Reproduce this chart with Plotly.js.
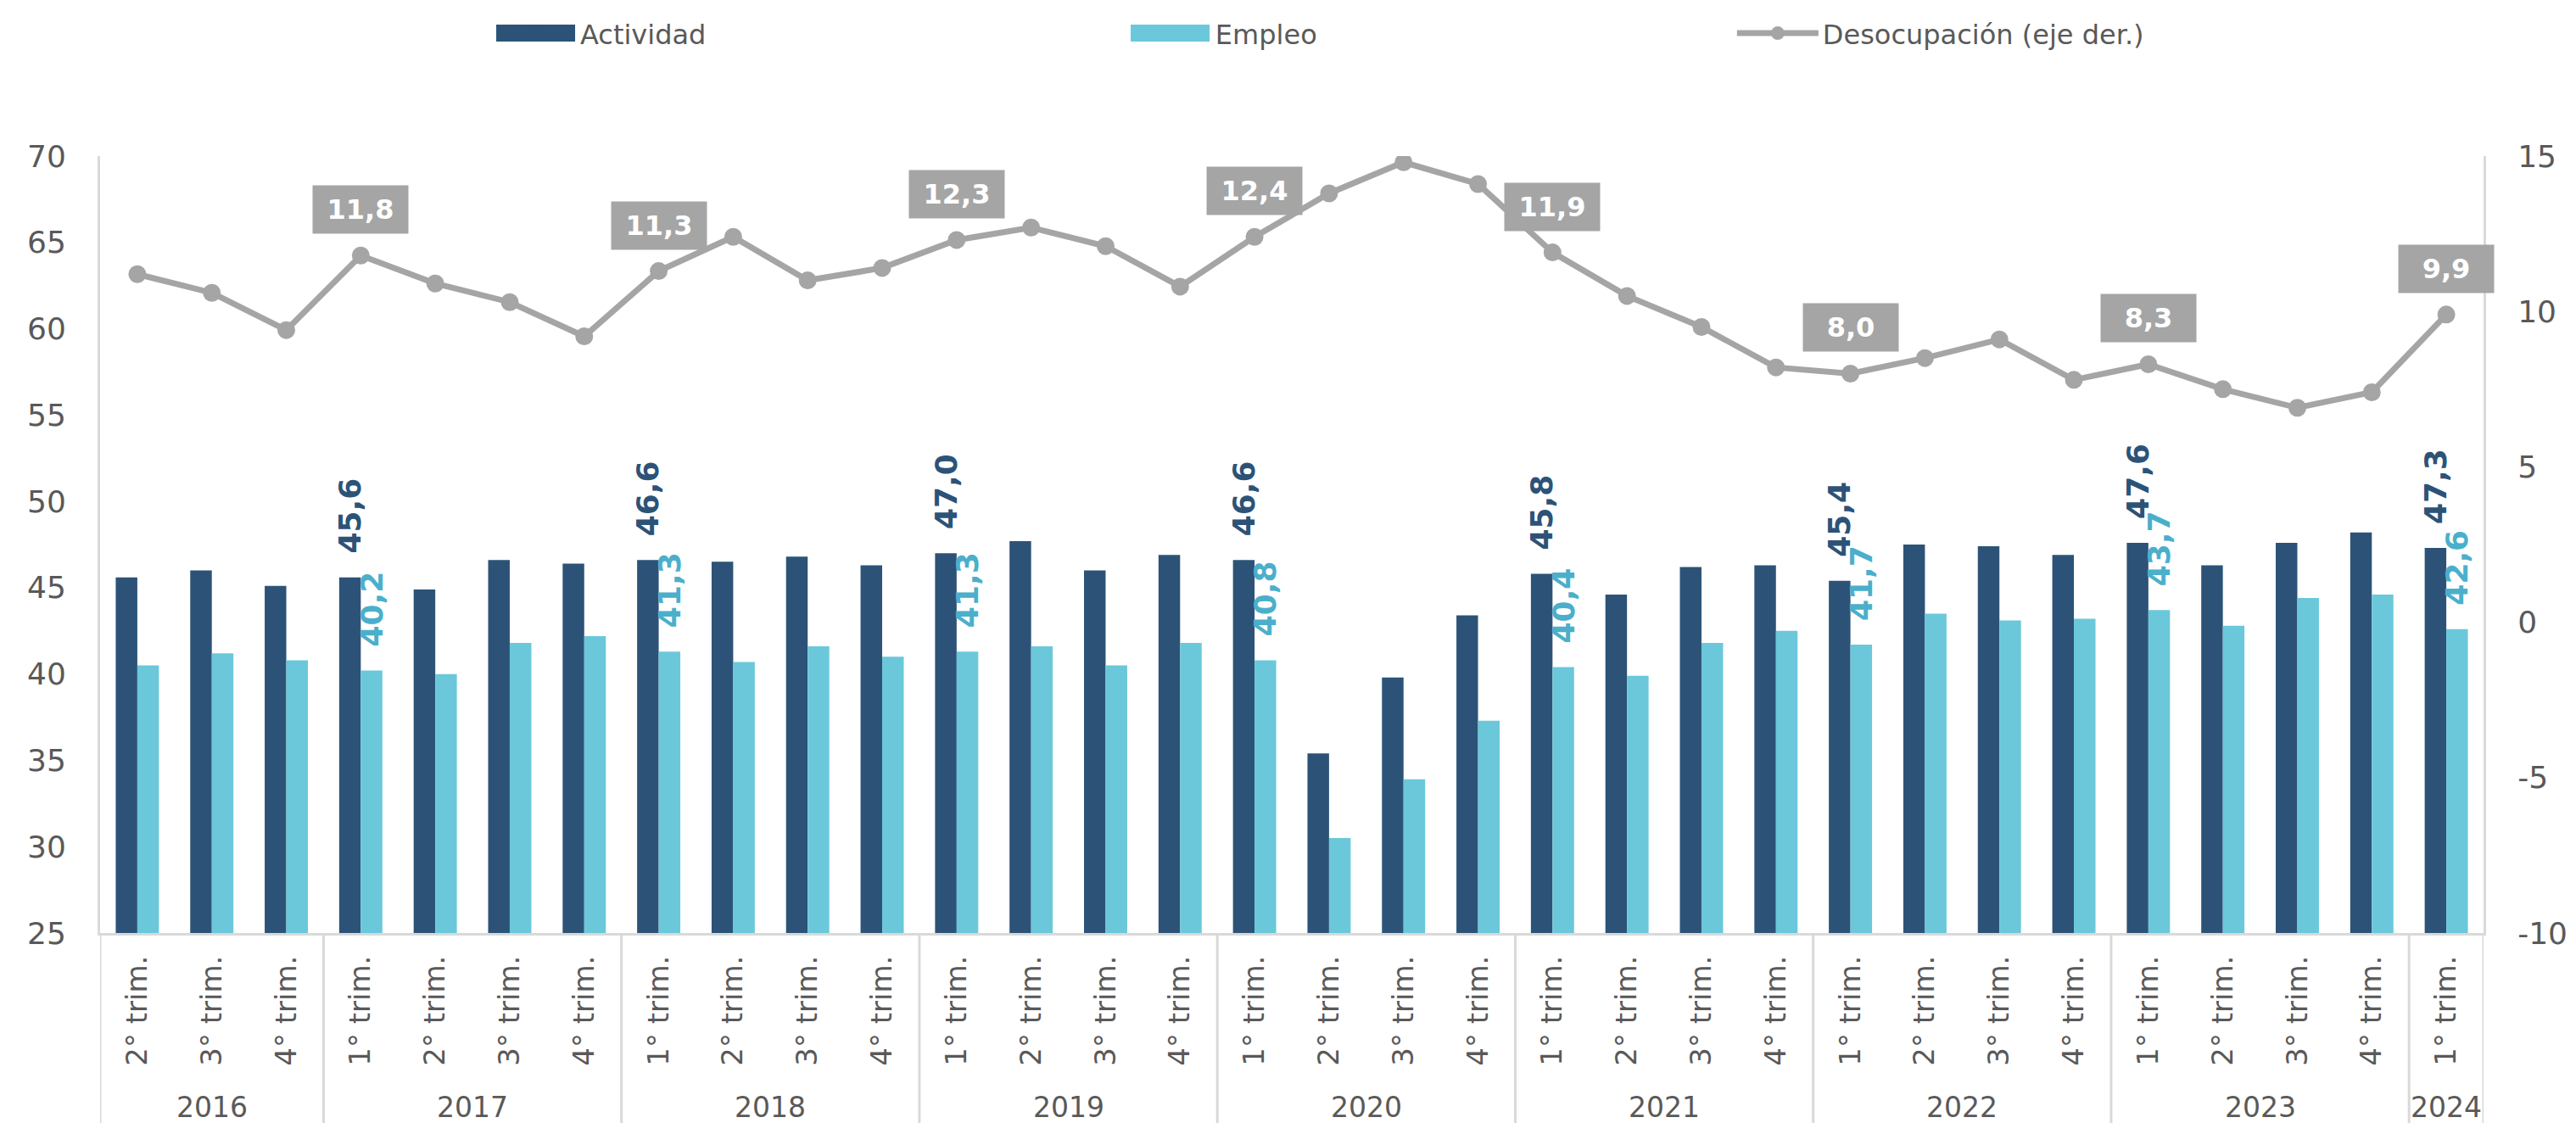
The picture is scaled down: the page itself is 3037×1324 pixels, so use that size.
<!DOCTYPE html>
<html><head><meta charset="utf-8">
<script src="https://cdn.plot.ly/plotly-3.0.1.min.js"></script>
<style>html,body{margin:0;padding:0;background:#fff}</style>
</head><body><div id="chart" style="width:3037px;height:1324px"></div>
<script>
const years = ['2016','2016','2016','2017','2017','2017','2017','2018','2018','2018','2018','2019','2019','2019','2019','2020','2020','2020','2020','2021','2021','2021','2021','2022','2022','2022','2022','2023','2023','2023','2023','2024'];
const quarters = ['2° trim.','3° trim.','4° trim.','1° trim.','2° trim.','3° trim.','4° trim.','1° trim.','2° trim.','3° trim.','4° trim.','1° trim.','2° trim.','3° trim.','4° trim.','1° trim.','2° trim.','3° trim.','4° trim.','1° trim.','2° trim.','3° trim.','4° trim.','1° trim.','2° trim.','3° trim.','4° trim.','1° trim.','2° trim.','3° trim.','4° trim.','1° trim.'];
const actividad = [45.6,46.0,45.1,45.6,44.9,46.6,46.4,46.6,46.5,46.8,46.3,47.0,47.7,46.0,46.9,46.6,35.4,39.8,43.4,45.8,44.6,46.2,46.3,45.4,47.5,47.4,46.9,47.6,46.3,47.6,48.2,47.3];
const empleo = [40.5,41.2,40.8,40.2,40.0,41.8,42.2,41.3,40.7,41.6,41.0,41.3,41.6,40.5,41.8,40.8,30.5,33.9,37.3,40.4,39.9,41.8,42.5,41.7,43.5,43.1,43.2,43.7,42.8,44.4,44.6,42.6];
const desocupacion = [11.2,10.6,9.4,11.8,10.9,10.3,9.2,11.3,12.4,11.0,11.4,12.3,12.7,12.1,10.8,12.4,13.8,14.8,14.1,11.9,10.5,9.5,8.2,8.0,8.5,9.1,7.8,8.3,7.5,6.9,7.4,9.9];
const leftTicks = [25,30,35,40,45,50,55,60,65,70];
const rightTicks = [-10,-5,0,5,10,15];
const rightTickText = ['-10','-5','0','5','10','15'];

const xIdx = quarters.map((q, i) => i);
const fmt = v => v.toFixed(1).replace('.', ',');
const isQ1 = i => quarters[i].startsWith('1°');
const pad = '\u00a0\u00a0';
const actText = actividad.map((v, i) => isQ1(i) ? pad + fmt(v) : '');
const empText = empleo.map((v, i) => isQ1(i) ? pad + fmt(v) : '');

const FONT = 'DejaVu Sans';
const GRAY = '#595959';
const AXC = '#D9D9D9';
const C_ACT = '#2C5377';
const C_EMP = '#6AC8DA';
const C_DES = '#A5A5A5';

const traces = [
  {type:'bar', x:xIdx, y:actividad, name:'Actividad', legend:'legend',
   marker:{color:C_ACT}, text:actText, textposition:'outside', textangle:-90,
   constraintext:'none', cliponaxis:false,
   textfont:{family:FONT, size:36, color:C_ACT, weight:'bold'}, hoverinfo:'skip'},
  {type:'bar', x:xIdx, y:empleo, name:'Empleo', legend:'legend2',
   marker:{color:C_EMP}, text:empText, textposition:'outside', textangle:-90,
   constraintext:'none', cliponaxis:false,
   textfont:{family:FONT, size:36, color:'#4BAFCB', weight:'bold'}, hoverinfo:'skip'},
  {type:'scatter', mode:'lines+markers', x:xIdx, y:desocupacion, yaxis:'y2',
   name:'Desocupación (eje der.)', legend:'legend3',
   line:{color:C_DES, width:7}, marker:{color:C_DES, size:21}, hoverinfo:'skip'}
];

const annotations = [];
xIdx.filter(isQ1).forEach(i => {
  annotations.push({x:i, y:desocupacion[i], xref:'x', yref:'y2', text:'<b>' + fmt(desocupacion[i]) + '</b>',
    showarrow:false, yshift:54, bgcolor:C_DES, width:110, height:54, borderpad:1,
    font:{family:FONT, size:32, color:'#FFFFFF'}});
});
const yearList = [...new Set(years)];
yearList.forEach(y => {
  const idx = xIdx.filter(i => years[i] === y);
  const mid = (idx[0] + idx[idx.length - 1]) / 2;
  annotations.push({x:mid, y:-0.2238, xref:'x', yref:'paper', yanchor:'middle', text:y, showarrow:false,
    font:{family:FONT, size:33, color:GRAY}});
});

const shapes = [];
const bounds = [-0.5];
xIdx.forEach(i => { if (i > 0 && years[i] !== years[i-1]) bounds.push(i - 0.5); });
bounds.push(xIdx.length - 0.5);
bounds.forEach(b => shapes.push({type:'line', xref:'x', yref:'paper', x0:b, x1:b, y0:0, y1:-0.25,
  line:{color:AXC, width:3}}));
// wider legend swatches for the bar series (drawn over the small default symbols)
shapes.push({type:'rect', xref:'paper', yref:'paper', x0:0.1662, x1:0.1993, y0:1.1474, y1:1.1692,
  fillcolor:C_ACT, line:{width:0}, layer:'above'});
shapes.push({type:'rect', xref:'paper', yref:'paper', x0:0.4324, x1:0.4655, y0:1.1474, y1:1.1692,
  fillcolor:C_EMP, line:{width:0}, layer:'above'});

const legendBase = {orientation:'h', yanchor:'middle', y:1.158, xanchor:'left', bgcolor:'rgba(0,0,0,0)',
  font:{family:FONT, size:32, color:GRAY}, itemwidth:96};

const layout = {
  width:3037, height:1324,
  margin:{l:118, r:109, t:184, b:224},
  paper_bgcolor:'#FFFFFF', plot_bgcolor:'#FFFFFF',
  barmode:'group', bargap:0.42, bargroupgap:0,
  showlegend:true,
  legend:Object.assign({}, legendBase, {x:0.1637}),
  legend2:Object.assign({}, legendBase, {x:0.4302}),
  legend3:Object.assign({}, legendBase, {x:0.685}),
  xaxis:{range:[-0.5, 31.5], tickmode:'array', tickvals:xIdx, ticktext:quarters, tickangle:-90,
    tickfont:{family:FONT, size:34, color:GRAY}, showline:true, linecolor:AXC, linewidth:3,
    showgrid:false, zeroline:false, ticks:'', ticklabelstandoff:10},
  yaxis:{range:[25,70], tickmode:'array', tickvals:leftTicks, tickfont:{family:FONT, size:36, color:GRAY},
    showline:true, linecolor:AXC, linewidth:3, showgrid:false, zeroline:false, ticks:'', ticklabelstandoff:30},
  yaxis2:{range:[-10,15], tickmode:'array', tickvals:rightTicks, ticktext:rightTickText, overlaying:'y', side:'right',
    tickfont:{family:FONT, size:36, color:GRAY},
    showline:true, linecolor:AXC, linewidth:3, showgrid:false, zeroline:false, ticks:'', ticklabelstandoff:30},
  annotations:annotations,
  shapes:shapes
};

Plotly.newPlot('chart', traces, layout, {displayModeBar:false, staticPlot:true});
</script>
</body></html>
